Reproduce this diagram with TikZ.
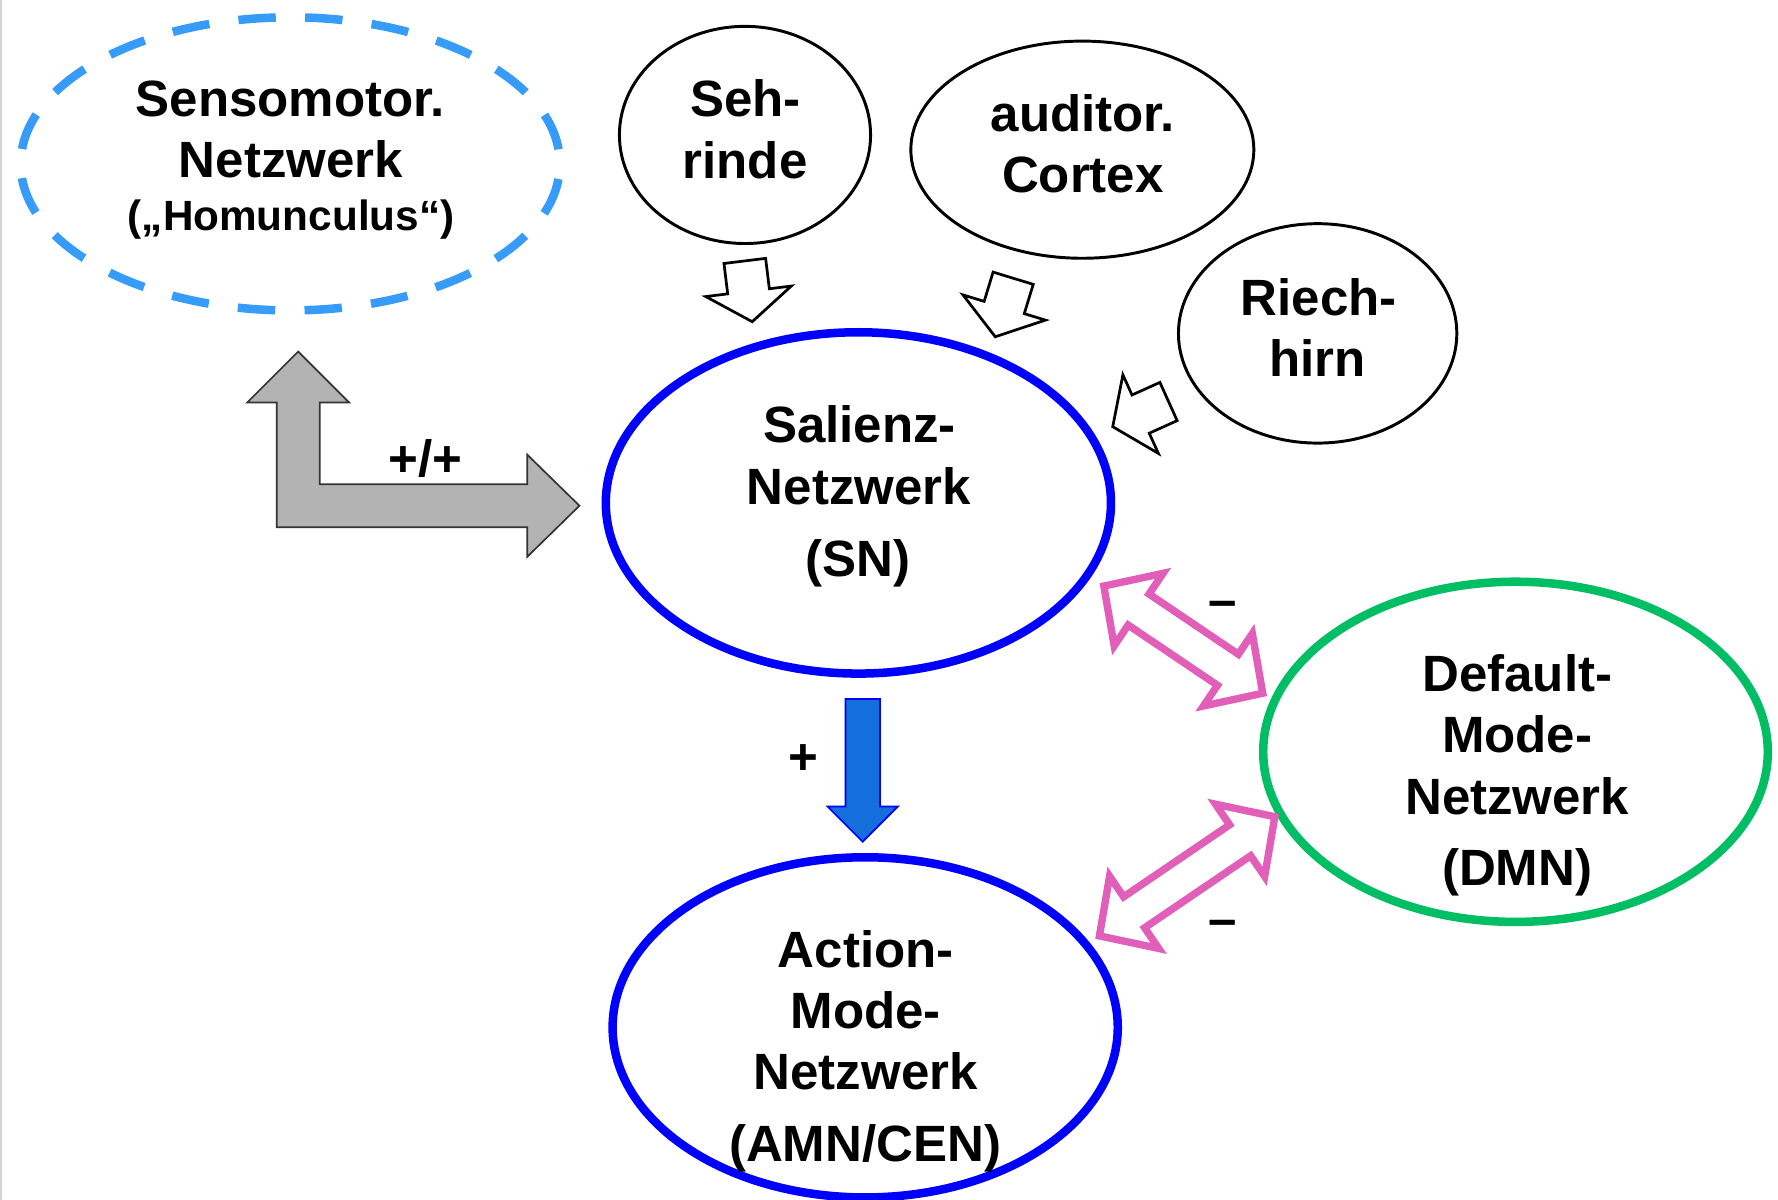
\documentclass[tikz,border=0pt]{standalone}
\usepackage{fontspec}
\setmainfont{Liberation Sans}
\usetikzlibrary{shapes.geometric}
\definecolor{smblue}{RGB}{55,155,250}
\definecolor{netblue}{RGB}{0,0,255}
\definecolor{dmngreen}{RGB}{0,190,100}
\definecolor{linkpink}{RGB}{225,95,185}
\definecolor{arrowfill}{RGB}{20,110,220}
\definecolor{arrowgray}{RGB}{179,179,179}
\definecolor{edgegray}{RGB}{210,210,210}
\begin{document}
\begin{tikzpicture}[x=1pt,y=-1pt,
  lbl/.style={font=\fontsize{45}{54}\selectfont\bfseries, inner sep=0pt, anchor=base},
  lblsmall/.style={font=\fontsize{37.3}{45}\selectfont\bfseries, inner sep=0pt, anchor=base},
  ring/.style={ellipse, inner sep=0pt, outer sep=0pt, draw},
  thinring/.style={ring, line width=2.6pt, draw=black},
  netring/.style={ring, line width=7.5pt, draw=netblue},
  dmnring/.style={ring, line width=7.5pt, draw=dmngreen},
  smring/.style={ring, line width=7.5pt, draw=smblue,
    dash pattern=on 33pt off 25.9pt, dash phase=46pt},
  smallarrow/.style={draw=black, fill=white, line width=2.4pt, line join=miter},
  pinkarrow/.style={draw=linkpink, line width=6.5pt, line join=miter, miter limit=10},
  grayarrow/.style={draw=black!80, fill=arrowgray, line width=1.5pt},
  bluearrow/.style={draw=netblue, fill=arrowfill, line width=1.5pt},
  pics/inflow/.style={code={
    \draw[smallarrow] (0,0) -- (-27,38) -- (-27,18.5) -- (-54,18.5)
      -- (-54,-18.5) -- (-27,-18.5) -- (-27,-38) -- cycle;}},
  pics/duplex/.style={code={
    \draw[pinkarrow] (#1,0) -- ({#1-37},38.5) -- ({#1-37},16.5)
      -- ({-#1+37},16.5) -- ({-#1+37},38.5) -- ({-#1},0)
      -- ({-#1+37},-38.5) -- ({-#1+37},-16.5) -- ({#1-37},-16.5)
      -- ({#1-37},-38.5) -- cycle;}}
]
\useasboundingbox (0,0) rectangle (1568,1058);
\fill[white] (0,0) rectangle (1568,1058);
\draw[edgegray, line width=2pt] (1,0) -- (1,1058);

% network ellipses
\node[smring, minimum width=475.5pt, minimum height=258.5pt] (sm) at (256,144.5) {};
\node[thinring, minimum width=221.5pt, minimum height=191.5pt] (seh) at (657,119) {};
\node[thinring, minimum width=302.5pt, minimum height=191.5pt] (aud) at (954.5,132) {};
\node[thinring, minimum width=245.5pt, minimum height=193.5pt] (riech) at (1162,294) {};
\node[netring, minimum width=445.5pt, minimum height=301pt] (sn) at (757,443.5) {};
\node[dmnring, minimum width=445pt, minimum height=300pt] (dmn) at (1336.5,663) {};
\node[netring, minimum width=445.5pt, minimum height=300pt] (amn) at (763,906) {};

% labels
\node[lbl] (sm1) at (256,102.4) {Sensomotor.};
\node[lbl] (sm2) at (256.5,156.5) {Netzwerk};
\node[lblsmall] (sm3) at (256.7,203.1) {(„Homunculus“)};
\node[lbl] (seh1) at (657.5,103) {Seh-};
\node[lbl] (seh2) at (657,157) {rinde};
\node[lbl] (aud1) at (955,116) {auditor.};
\node[lbl] (aud2) at (955,170) {Cortex};
\node[lbl] (riech1) at (1163,278) {Riech-};
\node[lbl] (riech2) at (1162,332) {hirn};
\node[lbl] (sn1) at (758,390) {Salienz-};
\node[lbl] (sn2) at (757.5,445) {Netzwerk};
\node[lbl] (sn3) at (757,508) {(SN)};
\node[lbl] (dmn1) at (1338,610) {Default-};
\node[lbl] (dmn2) at (1338,664) {Mode-};
\node[lbl] (dmn3) at (1338,718) {Netzwerk};
\node[lbl] (dmn4) at (1338,781) {(DMN)};
\node[lbl] (amn1) at (763.5,853) {Action-};
\node[lbl] (amn2) at (763.5,907) {Mode-};
\node[lbl] (amn3) at (763.5,961) {Netzwerk};
\node[lbl] (amn4) at (763,1024) {(AMN/CEN)};

% sensory input arrows into the salience network
\coordinate (tipseh) at (663.4,283.7);
\coordinate (tipaud) at (877.7,297);
\coordinate (tipriech) at (981.3,376.3);
\pic[rotate=-83] at (tipseh) {inflow};
\pic[rotate=-107] at (tipaud) {inflow};
\pic[rotate=204.3] at (tipriech) {inflow};

% sensorimotor <-> salience (bent double arrow)
\draw[grayarrow] (263,310) -- (308,355) -- (282,355) -- (282,427) -- (465,427)
  -- (465,401) -- (511,446) -- (465,491) -- (465,465) -- (244,465) -- (244,355)
  -- (218,355) -- cycle;
\node[lbl] (pp) at (375,420) {+/+};

% salience -> action mode
\draw[bluearrow] (745.6,616.4) -- (776,616.4) -- (776,711.3) -- (791.8,711.3)
  -- (760.8,742.3) -- (729.8,711.3) -- (745.6,711.3) -- cycle;
\node[lbl] (plus) at (708.4,683.4) {+};

% anticorrelated links with the default mode network
\coordinate (linkup) at (1043.5,564.1);
\coordinate (linklow) at (1046.9,772.8);
\pic[rotate=-34] at (linkup) {duplex=84.5};
\pic[rotate=34.2] at (linklow) {duplex=93.5};
\node[lbl] (minusup) at (1078,544.7) {–};
\node[lbl] (minuslow) at (1078,826.2) {–};
\end{tikzpicture}
\end{document}
